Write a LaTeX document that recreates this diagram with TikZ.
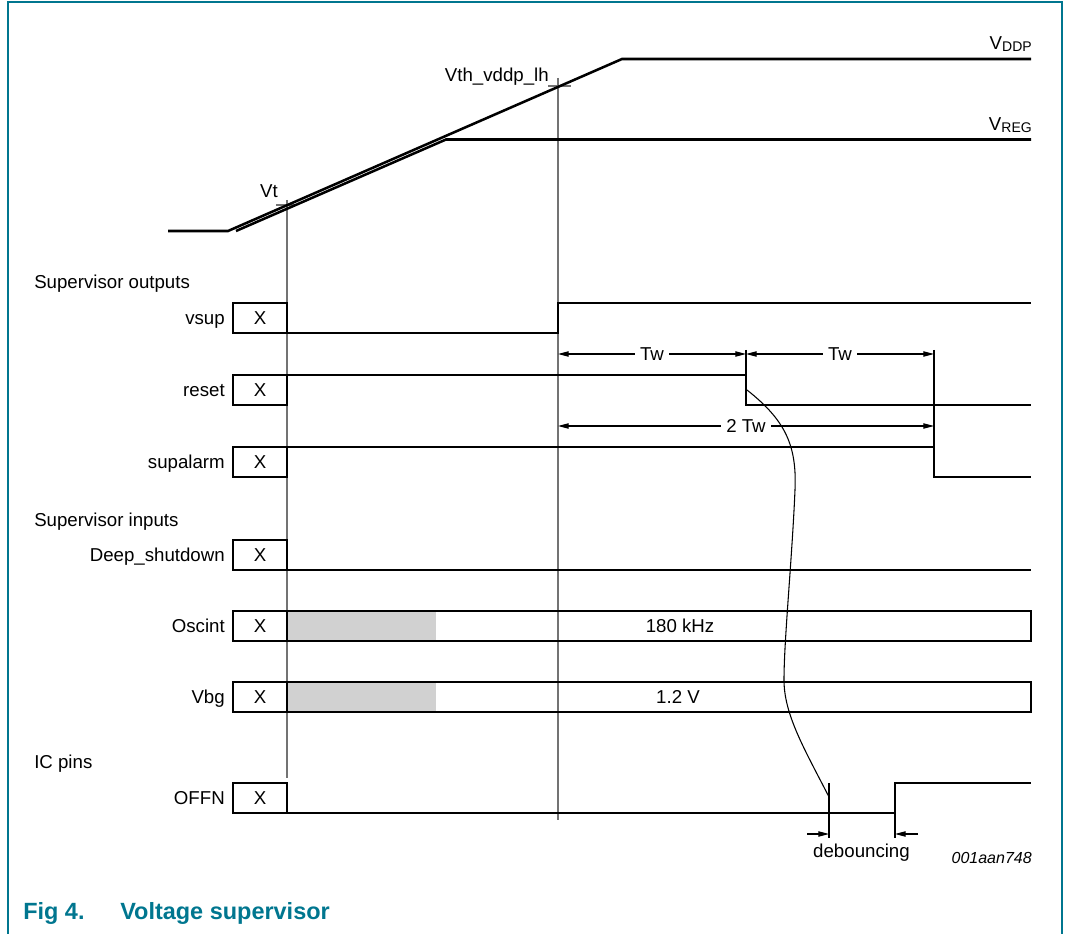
\documentclass[tikz,border=0pt]{standalone}
\usepackage{fontspec}
\setmainfont{Liberation Sans}
\usetikzlibrary{arrows.meta}
\definecolor{figteal}{RGB}{0,118,143}
\newcommand{\subtxt}[1]{\raisebox{-1.5pt}{\fontsize{10.5}{12}\selectfont #1}}

\begin{document}
\begin{tikzpicture}[x=0.75pt, y=-0.75pt, font=\fontsize{14}{16}\selectfont,
    every node/.style={inner sep=0pt},
    sig/.style={line width=1.9pt},
    guide/.style={line width=1.1pt, black!55},
    fine/.style={line width=0.8pt},
    tip/.style={-{Triangle[length=8pt,width=4pt]}},
    dimline/.style={fine, {Triangle[length=8pt,width=4pt]}-{Triangle[length=8pt,width=4pt]}},
    dimlbl/.style={fill=white, inner xsep=4pt, inner ysep=1pt},
    xbox/.style={draw, line width=1.9pt, outer sep=0pt, minimum width=40.5pt, minimum height=22.5pt},
    rowlbl/.style={anchor=base east}]
  \useasboundingbox (0,0) rectangle (1065,934);
  \draw[figteal, line width=1.5pt] (7.5,934) -- (7.5,2.5) -- (1062,2.5) -- (1062,934);

  % guides
  \draw[guide] (287,200) -- (287,778);
  \draw[guide] (276,205) -- (297,205);
  \draw[guide] (558,78) -- (558,820);
  \draw[guide] (548,86) -- (571,86);
  \node (vt) [anchor=base east] at (278,198) {Vt};
  \node (vth) [anchor=base east] at (549,82) {Vth\_vddp\_lh};

  % supplies
  \draw[sig] (168,231) -- (228,231) -- (622,59) -- (1031,59);
  \draw[sig] (236,231) -- (446,139.5) -- (1031,139.5);
  \node (vddp) [anchor=base east] at (1032,50) {V\subtxt{DDP}};
  \node (vreg) [anchor=base east] at (1032,131) {V\subtxt{REG}};

  % supervisor outputs
  \node (outs) [anchor=base west] at (34,289) {Supervisor outputs};
  \node (vsl) [rowlbl] at (225,324.5) {vsup};
  \node (vs) [xbox] at (260,318) {X};
  \draw[sig] (vs.south east) -- (558,333) -- (558,303) -- (1031,303);

  \node (rsl) [rowlbl] at (225,396.5) {reset};
  \node (rs) [xbox] at (260,390) {X};
  \coordinate (rsfall) at (747,390);
  \draw[sig] (rs.north east) -- (746,375) -- (746,405) -- (1031,405);

  \node (sal) [rowlbl] at (225,468.5) {supalarm};
  \node (sa) [xbox] at (260,462) {X};
  \draw[sig] (sa.north east) -- (934,447) -- (934,477) -- (1031,477);

  % timing
  \coordinate (tw0) at (558,354);
  \coordinate (tw1) at (746,354);
  \coordinate (tw2) at (934,354);
  \coordinate (tt0) at (558,426);
  \coordinate (tt2) at (934,426);
  \draw[fine] (746,350) -- (746,375);
  \draw[fine] (934,350) -- (934,447);
  \draw[dimline] (tw0) -- node[dimlbl] {Tw} (tw1);
  \draw[dimline] (tw1) -- node[dimlbl] {Tw} (tw2);
  \draw[dimline] (tt0) -- node[dimlbl, pos=0.5] {2 Tw} (tt2);

  % supervisor inputs
  \node (ins) [anchor=base west] at (34,527) {Supervisor inputs};
  \node (dsl) [rowlbl] at (225,561.5) {Deep\_shutdown};
  \node (ds) [xbox] at (260,555) {X};
  \draw[sig] (ds.south east) -- (1031,570);

  \node (osl) [rowlbl] at (225,632.5) {Oscint};
  \fill[black!18] (287,611) rectangle (436,641);
  \node (os) [xbox] at (260,626) {X};
  \draw[sig] (os.north east) -- (1031,611) -- (1031,641) -- (os.south east);
  \node (osf) [anchor=base] at (680,632.5) {180 kHz};

  \node (vbl) [rowlbl] at (225,703.5) {Vbg};
  \fill[black!18] (287,682) rectangle (436,712);
  \node (vb) [xbox] at (260,697) {X};
  \draw[sig] (vb.north east) -- (1031,682) -- (1031,712) -- (vb.south east);
  \node (vbf) [anchor=base] at (678,703.5) {1.2 V};

  % IC pins
  \node (pins) [anchor=base west] at (34,768) {IC pins};
  \node (ofl) [rowlbl] at (225,804.5) {OFFN};
  \node (of) [xbox] at (260,798) {X};
  \draw[sig] (of.south east) -- (895,813) -- (895,783) -- (1031,783);

  % debouncing
  \coordinate (dba) at (829,834);
  \coordinate (dbb) at (895,834);
  \draw[fine] (829,783) -- (829,838);
  \draw[fine] (895,813) -- (895,838);
  \draw[fine, tip] (807,834) -- (dba);
  \draw[fine, tip] (918,834) -- (dbb);
  \draw[fine] (rsfall) .. controls (785,420) and (797,445) .. (795,490)
    .. controls (792,560) and (784,640) .. (784,680)
    .. controls (784,715) and (805,750) .. (829,797);
  \node (dbl) [anchor=base] at (861.5,857) {debouncing};
  \node (code) [anchor=base east, font=\fontsize{12}{14}\selectfont\itshape] at (1032,863) {001aan748};

  % caption
  \node (fig) [anchor=base west, text=figteal, font=\fontsize{17.6}{20}\selectfont\bfseries] at (23,919) {Fig 4.};
  \node (title) [anchor=base west, text=figteal, font=\fontsize{17.6}{20}\selectfont\bfseries] at (120,919) {Voltage supervisor};
\end{tikzpicture}
\end{document}
